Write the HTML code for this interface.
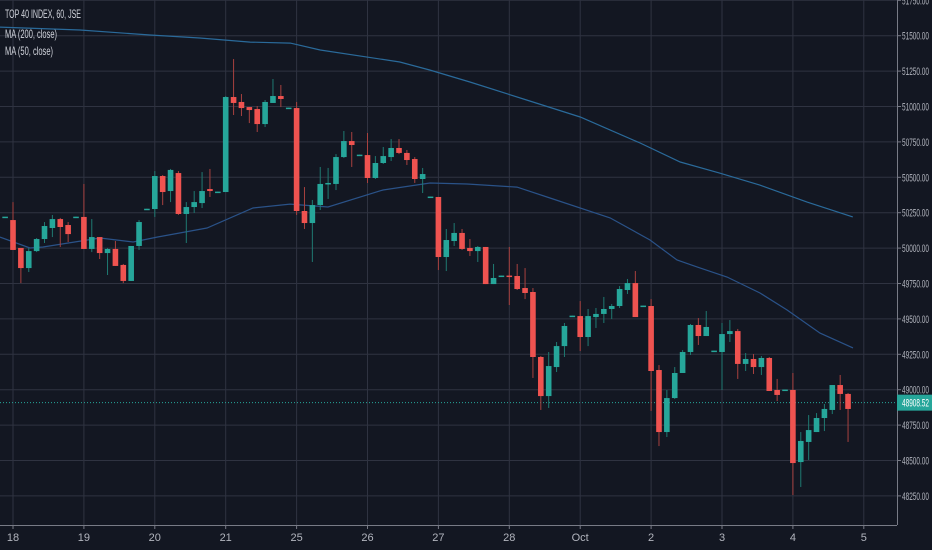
<!DOCTYPE html>
<html><head><meta charset="utf-8">
<style>
html,body{margin:0;padding:0;background:#131722;}
svg{display:block;}
text{font-family:"Liberation Sans Narrow","Liberation Sans",sans-serif;}
</style></head>
<body>
<svg id="chart" width="932" height="550" viewBox="0 0 932 550" xmlns="http://www.w3.org/2000/svg">
<rect width="932" height="550" fill="#131722"/>
<g id="grid"></g>
<g id="ma"></g>
<g id="candles"></g>
<g id="axes"></g>
<g fill="#d1d4dc" font-size="12">
<text x="5" y="18" textLength="76" lengthAdjust="spacingAndGlyphs">TOP 40 INDEX, 60, JSE</text>
<text x="5" y="38" textLength="52" lengthAdjust="spacingAndGlyphs">MA (200, close)</text>
<text x="5" y="55" textLength="48" lengthAdjust="spacingAndGlyphs">MA (50, close)</text>
</g>
</svg>
<script>
// ---- data ----
const dayLabels = ["18","19","20","21","25","26","27","28","Oct","2","3","4","5"];
const priceTicks = [48250,48500,48750,49000,49250,49500,49750,50000,50250,50500,50750,51000,51250,51500,51750];
const opens  = [50215,50198,50001,49859,49979,50064,50142,50205,50163,50216,50220,49994,50078,49965,49994,49881,49768,50015,50272,50276,50509,50403,50530,50241,50290,50318,50417,50393,50396,51067,51032,50996,50982,50876,51025,51074,50986,50989,50262,50177,50304,50453,50453,50643,50756,50654,50657,50495,50601,50643,50707,50672,50629,50488,50358,50361,49937,50050,50107,50001,49979,50008,49746,49800,49806,49803,49718,49690,49231,48955,49160,49308,49517,49520,49372,49513,49535,49570,49591,49704,49753,49588,49591,49139,48701,48941,49118,49266,49457,49379,49270,49266,49393,49414,49182,49217,49160,49224,48998,48995,48998,48489,48631,48701,48800,48857,49033,48970];
const highs  = [50220,50325,50001,50001,50071,50184,50234,50213,50184,50222,50453,50205,50078,50001,50050,49888,50015,50198,50278,50544,50516,50559,50544,50325,50403,50537,50559,50399,51074,51335,51088,50996,51003,51046,51194,51152,50992,51032,50431,50340,50573,50566,50664,50827,50820,50660,50813,50650,50714,50770,50770,50693,50643,50566,50364,50361,50135,50177,50135,50064,50015,50008,49888,49806,50008,49888,49859,49718,49238,49266,49337,49471,49523,49626,49570,49577,49655,49605,49732,49782,49838,49594,49640,49174,48998,49160,49280,49464,49506,49556,49276,49471,49492,49429,49259,49252,49238,49231,49076,49001,49118,48701,48821,48835,48899,49033,49104,48977];
const lows   = [50215,49987,49753,49831,49972,50036,50078,50008,50043,50216,49994,49972,49923,49810,49874,49753,49768,49987,50272,50220,50304,50325,50234,50036,50248,50283,50361,50393,50396,50940,50933,50883,50820,50855,51025,50996,50986,50234,50135,49902,50269,50347,50410,50636,50573,50654,50460,50488,50594,50615,50664,50587,50460,50389,50358,49845,49838,50015,49987,49944,49902,49746,49746,49800,49598,49704,49640,49083,48857,48871,49125,49231,49517,49273,49308,49436,49471,49499,49577,49676,49513,49588,48850,48602,48666,48934,49118,49245,49316,49379,49270,48998,49337,49076,49132,49111,49104,48991,48920,48995,48256,48313,48504,48701,48708,48828,48857,48631];
const closes = [50222,49987,49859,49979,50064,50156,50205,50149,50099,50222,49994,50078,49965,49994,49874,49768,50015,50184,50278,50509,50396,50552,50241,50290,50325,50403,50403,50399,51067,51025,50989,50975,50876,51032,51074,51053,50992,50262,50177,50304,50453,50460,50643,50756,50728,50660,50495,50601,50650,50707,50672,50622,50488,50523,50364,49937,50057,50107,49994,49979,50008,49746,49789,49806,49800,49711,49683,49231,48955,49167,49308,49450,49523,49372,49520,49535,49570,49591,49711,49753,49513,49594,49132,48701,48941,49118,49266,49457,49379,49443,49276,49393,49414,49182,49217,49160,49224,48991,48963,49001,48482,48638,48715,48800,48864,49033,48970,48864];
const ma200Idx = [-0.65,9.5,18.4,24.7,31.1,36.2,40,50.1,53.9,59,66.2,73,80.6,85.7,90.7,95.8,101.8,107.6];
const ma200Val = [51561,51540,51505,51484,51455,51448,51399,51314,51258,51173,51046,50926,50742,50608,50530,50445,50325,50220];
const ma50Idx = [-0.65,3.16,4.81,12.05,16.24,19.28,25.63,31.47,36.16,40.99,47.97,53.94,58.63,64.98,69.17,76.79,81.86,85.29,87.83,91.64,95.83,99.26,103.44,107.63];
const ma50Val = [50078,50001,50008,50071,50043,50078,50142,50283,50311,50290,50410,50460,50453,50431,50354,50213,50057,49916,49867,49796,49683,49563,49400,49295];
const lastPrice = 48908.52;

// ---- scales ----
const NS = "http://www.w3.org/2000/svg";
const plotRight = 897, plotBottom = 525;
const barStep = 70.9/9, barX0 = 13 - 70.9/9;
function xBar(i){ return barX0 + i*barStep; }
function xDay(d){ return 13 + d*70.9; }
function yP(p){ return 283.5 - (p - 49750) * (35.4/250); }
function mk(tag, attrs, parent){
  const e = document.createElementNS(NS, tag);
  for (const k in attrs) e.setAttribute(k, attrs[k]);
  parent.appendChild(e); return e;
}
const grid = document.getElementById('grid');
const axes = document.getElementById('axes');
const cg = document.getElementById('candles');
const mag = document.getElementById('ma');

// grid
priceTicks.forEach(p => {
  const l = mk('line', {x1:0, x2:plotRight, y1:yP(p), y2:yP(p), stroke:'#2f3341', 'stroke-width':1}, grid);
  
  
  const t = mk('text', {x:902, y:yP(p)+4, fill:'#b2b5be', 'font-size':11, textLength:27, lengthAdjust:'spacingAndGlyphs'}, axes);
  t.textContent = p.toFixed(2);
  
  
});
dayLabels.forEach((d, i) => {
  const x = xDay(i);
  const l = mk('line', {x1:x, x2:x, y1:0, y2:plotBottom, stroke:'#2f3341', 'stroke-width':1}, grid);
  
  
  const tk = mk('line', {x1:x, x2:x, y1:plotBottom, y2:plotBottom+4, stroke:'#787b86'}, axes);
  
  
  const t = mk('text', {x:x, y:541, fill:'#b2b5be', 'font-size':11, 'text-anchor':'middle'}, axes);
  t.textContent = d;
  
  
});
const ax1 = mk('line', {x1:0, x2:plotRight, y1:plotBottom+0.5, y2:plotBottom+0.5, stroke:'#787b86'}, axes);


const ax2 = mk('line', {x1:plotRight+0.5, x2:plotRight+0.5, y1:0, y2:plotBottom, stroke:'#787b86'}, axes);


priceTicks.forEach(p => {
  const tk = mk('line', {x1:plotRight, x2:plotRight+4, y1:yP(p), y2:yP(p), stroke:'#787b86'}, axes);
  
  
});

// MAs
function maPath(idx, val){ return idx.map((i,k)=> (k?'L':'M') + xBar(i).toFixed(1) + ' ' + yP(val[k]).toFixed(1)).join(' '); }
const m200 = mk('path', {d:maPath(ma200Idx, ma200Val), fill:'none', stroke:'#2a6a9a', 'stroke-width':1.2}, mag);


const m50 = mk('path', {d:maPath(ma50Idx, ma50Val), fill:'none', stroke:'#2a5288', 'stroke-width':1.2}, mag);



// last price line
const lp = mk('line', {x1:0, x2:plotRight, y1:yP(lastPrice), y2:yP(lastPrice), stroke:'#26a69a', 'stroke-width':1, 'stroke-dasharray':'1 2'}, cg);



// candles
for (let i = 0; i < opens.length; i++) {
  const up = closes[i] >= opens[i];
  const col = up ? '#26a69a' : '#ef5350';
  const wcol = up ? '#1f7a72' : '#a8413f';
  const x = xBar(i);
  const w = mk('line', {x1:x, x2:x, y1:yP(highs[i]), y2:yP(lows[i]), stroke:wcol, 'stroke-width':1}, cg);
  
  
  const top = yP(Math.max(opens[i], closes[i]));
  const h = Math.max(1.5, yP(Math.min(opens[i], closes[i])) - top);
  const b = mk('rect', {x:x-2.8, y:top, width:5.6, height:h, fill:col}, cg);
  
  
}

// last price label
const ly = yP(lastPrice);
const lb = mk('rect', {x:plotRight, y:ly-8, width:35, height:16, fill:'#26a69a'}, axes);


const lt = mk('text', {x:902, y:ly+4, fill:'#ffffff', 'font-size':11, textLength:27, lengthAdjust:'spacingAndGlyphs'}, axes);
lt.textContent = lastPrice.toFixed(2);


</script>
</body></html>
